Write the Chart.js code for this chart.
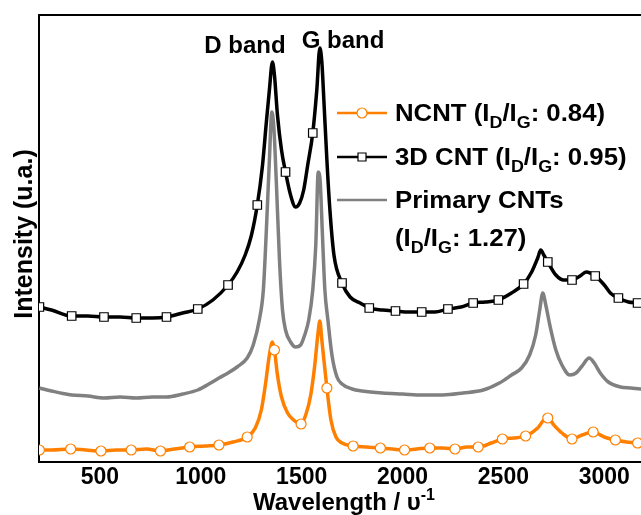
<!DOCTYPE html>
<html>
<head>
<meta charset="utf-8">
<script src="https://cdn.jsdelivr.net/npm/chart.js@4.4.1/dist/chart.umd.min.js"></script>
<style>
  html, body { margin: 0; padding: 0; background: #fff; overflow: hidden; }
</style>
</head>
<body>
<canvas id="ramanChart" width="641" height="515"></canvas>
<script>
// Raman shift (cm-1) and intensity (a.u.) for each sample
const ncntShift = [200, 260, 355, 430, 505, 580, 655, 730, 800, 870, 945, 1020, 1090, 1160, 1230, 1270, 1300, 1320, 1340, 1355, 1365, 1380, 1400, 1430, 1460, 1497, 1520, 1545, 1565, 1580, 1590, 1600, 1625, 1645, 1670, 1700, 1755, 1820, 1890, 1950, 2010, 2070, 2135, 2200, 2260, 2320, 2375, 2440, 2495, 2550, 2610, 2670, 2700, 2720, 2750, 2790, 2840, 2890, 2945, 3000, 3055, 3110, 3165, 3185];
const ncntIntensity = [12, 12, 13, 12, 11, 12, 12, 13, 11, 13, 15, 16, 17, 20, 25, 34, 52, 77, 107, 120, 112, 87, 65, 49, 42, 38, 47, 67, 97, 127, 141, 122, 74, 42, 25, 19, 16, 15, 14, 13, 12, 13, 14, 14, 13, 15, 15, 19, 23, 24, 26, 34, 42, 44, 37, 29, 23, 27, 30, 25, 22, 20, 19, 18];
const ncntMarks = [200, 355, 505, 655, 800, 945, 1090, 1230, 1365, 1497, 1625, 1755, 1890, 2010, 2135, 2260, 2375, 2495, 2610, 2720, 2840, 2945, 3055, 3165];

const cnt3dShift = [200, 260, 360, 440, 520, 600, 680, 760, 830, 910, 985, 1060, 1135, 1180, 1220, 1250, 1280, 1305, 1325, 1340, 1355, 1365, 1380, 1400, 1420, 1445, 1470, 1490, 1510, 1530, 1555, 1575, 1590, 1600, 1610, 1625, 1640, 1660, 1700, 1740, 1790, 1835, 1900, 1965, 2030, 2095, 2160, 2225, 2290, 2350, 2410, 2475, 2540, 2600, 2640, 2670, 2685, 2700, 2720, 2760, 2800, 2840, 2880, 2910, 2955, 3000, 3030, 3070, 3120, 3165, 3185];
const cnt3dIntensity = [155, 152, 146, 146, 145, 145, 144, 144, 145, 149, 153, 162, 177, 190, 207, 226, 257, 295, 340, 372, 400, 387, 347, 312, 290, 267, 255, 259, 272, 297, 329, 372, 414, 400, 362, 302, 252, 207, 179, 165, 159, 154, 152, 151, 150, 150, 150, 153, 155, 159, 160, 162, 169, 178, 190, 204, 212, 207, 200, 187, 182, 182, 186, 190, 186, 177, 169, 164, 160, 159, 158];
const cnt3dMarks = [200, 360, 520, 680, 830, 985, 1135, 1280, 1420, 1555, 1700, 1835, 1965, 2095, 2225, 2350, 2475, 2600, 2720, 2840, 2955, 3070, 3165];

const primaryShift = [200, 260, 360, 440, 520, 600, 680, 760, 830, 910, 985, 1040, 1090, 1135, 1180, 1230, 1260, 1290, 1310, 1325, 1340, 1352, 1362, 1375, 1390, 1405, 1420, 1445, 1470, 1495, 1515, 1535, 1555, 1570, 1582, 1592, 1602, 1615, 1630, 1650, 1675, 1700, 1750, 1800, 1900, 2000, 2100, 2200, 2300, 2400, 2480, 2540, 2590, 2630, 2660, 2680, 2695, 2710, 2730, 2760, 2790, 2830, 2860, 2890, 2925, 2950, 2980, 3020, 3080, 3130, 3185];
const primaryIntensity = [74, 71, 67, 66, 64, 65, 64, 65, 65, 68, 72, 78, 84, 89, 95, 104, 117, 142, 172, 232, 302, 350, 335, 277, 202, 152, 132, 120, 115, 117, 127, 142, 172, 217, 290, 280, 232, 172, 142, 107, 85, 78, 73, 71, 69, 68, 67, 67, 69, 72, 79, 87, 94, 107, 127, 152, 169, 157, 137, 112, 97, 87, 89, 96, 104, 99, 89, 80, 75, 74, 73];

const xTicks = [500, 1000, 1500, 2000, 2500, 3000];

const FONT = '"Liberation Sans", Arial, sans-serif';
const ORANGE = '#ff8000';
const GREY = '#808080';

function toPoints(xs, ys) {
    return xs.map((x, i) => ({ x: x, y: ys[i] }));
}

// draws bold text with optional sub/superscript pieces
function drawParts(ctx, parts, x, y, size, stretch, align) {
    ctx.save();
    ctx.textBaseline = 'alphabetic';
    ctx.textAlign = 'left';
    ctx.fillStyle = '#000';
    let w = 0;
    parts.forEach(p => {
        ctx.font = 'bold ' + (p.sub || p.sup ? Math.round(size * 0.68) : size) + 'px ' + FONT;
        w += ctx.measureText(p.t).width;
    });
    ctx.translate(x, y);
    ctx.scale(stretch, 1);
    let cx = align === 'center' ? -w / 2 : 0;
    parts.forEach(p => {
        const small = p.sub || p.sup;
        ctx.font = 'bold ' + (small ? Math.round(size * 0.68) : size) + 'px ' + FONT;
        const dy = p.sub ? size * 0.3 : (p.sup ? -size * 0.42 : 0);
        ctx.fillText(p.t, cx, dy);
        cx += ctx.measureText(p.t).width;
    });
    ctx.restore();
}

const legendRows = [
    { y: 113, color: ORANGE, marker: 'circle', parts: [{ t: 'NCNT (I' }, { t: 'D', sub: true }, { t: '/I' }, { t: 'G', sub: true }, { t: ': 0.84)' }] },
    { y: 157, color: '#000', marker: 'rect', parts: [{ t: '3D CNT (I' }, { t: 'D', sub: true }, { t: '/I' }, { t: 'G', sub: true }, { t: ': 0.95)' }] },
    { y: 200, color: GREY, marker: null, parts: [{ t: 'Primary CNTs' }] },
    { y: 238, color: null, marker: null, parts: [{ t: '(I' }, { t: 'D', sub: true }, { t: '/I' }, { t: 'G', sub: true }, { t: ': 1.27)' }] }
];

const annotations = {
    id: 'annotations',
    afterDraw(chart) {
        const ctx = chart.ctx;
        const area = chart.chartArea;

        // top edge of the frame
        ctx.save();
        ctx.strokeStyle = '#000';
        ctx.lineWidth = 2;
        ctx.beginPath();
        ctx.moveTo(area.left - 1, area.top);
        ctx.lineTo(chart.width, area.top);
        ctx.stroke();
        ctx.restore();

        // band labels
        drawParts(ctx, [{ t: 'D band' }], 245, 53, 24, 1, 'center');
        drawParts(ctx, [{ t: 'G band' }], 343, 48, 24, 1, 'center');

        // legend
        legendRows.forEach(row => {
            if (row.color) {
                ctx.save();
                ctx.strokeStyle = row.color;
                ctx.lineWidth = 2.5;
                ctx.beginPath();
                ctx.moveTo(337, row.y);
                ctx.lineTo(387, row.y);
                ctx.stroke();
                if (row.marker) {
                    ctx.fillStyle = '#fff';
                    ctx.lineWidth = 1.2;
                    ctx.beginPath();
                    if (row.marker === 'circle') {
                        ctx.arc(362, row.y, 5, 0, Math.PI * 2);
                    } else {
                        ctx.rect(358, row.y - 4, 8, 8);
                    }
                    ctx.fill();
                    ctx.stroke();
                }
                ctx.restore();
            }
            drawParts(ctx, row.parts, 395, row.y + 8, 23, 1.12, 'left');
        });

        // axis titles
        drawParts(ctx, [{ t: 'Wavelength / υ' }, { t: '-1', sup: true }], 344, 510, 24, 1, 'center');
        ctx.save();
        ctx.translate(32, 234);
        ctx.rotate(-Math.PI / 2);
        drawParts(ctx, [{ t: 'Intensity (u.a.)' }], 0, 0, 25, 1, 'center');
        ctx.restore();
    }
};

function markerRadius(marks, r) {
    return ctx => (ctx.raw && marks.includes(ctx.raw.x)) ? r : 0;
}

const ctx = document.getElementById('ramanChart').getContext('2d');
const ramanChart = new Chart(ctx, {
    type: 'line',
    data: {
        datasets: [{
            label: 'NCNT',
            data: toPoints(ncntShift, ncntIntensity),
            borderColor: ORANGE,
            borderWidth: 3.5,
            cubicInterpolationMode: 'monotone',
            pointStyle: 'circle',
            pointRadius: markerRadius(ncntMarks, 5),
            pointBackgroundColor: '#fff',
            pointBorderColor: ORANGE,
            pointBorderWidth: 1.2
        }, {
            label: '3D CNT',
            data: toPoints(cnt3dShift, cnt3dIntensity),
            borderColor: '#000',
            borderWidth: 3.5,
            cubicInterpolationMode: 'monotone',
            pointStyle: 'rect',
            pointRadius: markerRadius(cnt3dMarks, 6),
            pointBackgroundColor: '#fff',
            pointBorderColor: '#000',
            pointBorderWidth: 1.2
        }, {
            label: 'Primary CNTs',
            data: toPoints(primaryShift, primaryIntensity),
            borderColor: GREY,
            borderWidth: 3.5,
            cubicInterpolationMode: 'monotone',
            pointRadius: 0
        }]
    },
    options: {
        responsive: false,
        animation: false,
        layout: {
            autoPadding: false,
            padding: { top: 15, right: 0, bottom: 0, left: 0 }
        },
        plugins: {
            legend: { display: false },
            tooltip: { enabled: false }
        },
        scales: {
            x: {
                type: 'linear',
                min: 198,
                max: 3182,
                afterBuildTicks: scale => { scale.ticks = xTicks.map(v => ({ value: v })); },
                afterFit: scale => {
                    scale.height = 53;
                    scale.paddingLeft = 0;
                    scale.paddingRight = 0;
                },
                grid: { display: false, drawTicks: false },
                border: { display: true, color: '#000', width: 2 },
                ticks: {
                    color: '#000',
                    padding: 2,
                    maxRotation: 0,
                    callback: value => String(value),
                    font: { family: FONT, size: 23, weight: 'bold' }
                }
            },
            y: {
                min: 0,
                max: 447,
                afterFit: scale => { scale.width = 39; },
                grid: { display: false, drawTicks: false },
                border: { display: true, color: '#000', width: 2 },
                ticks: { display: false }
            }
        }
    },
    plugins: [annotations]
});
</script>
</body>
</html>
